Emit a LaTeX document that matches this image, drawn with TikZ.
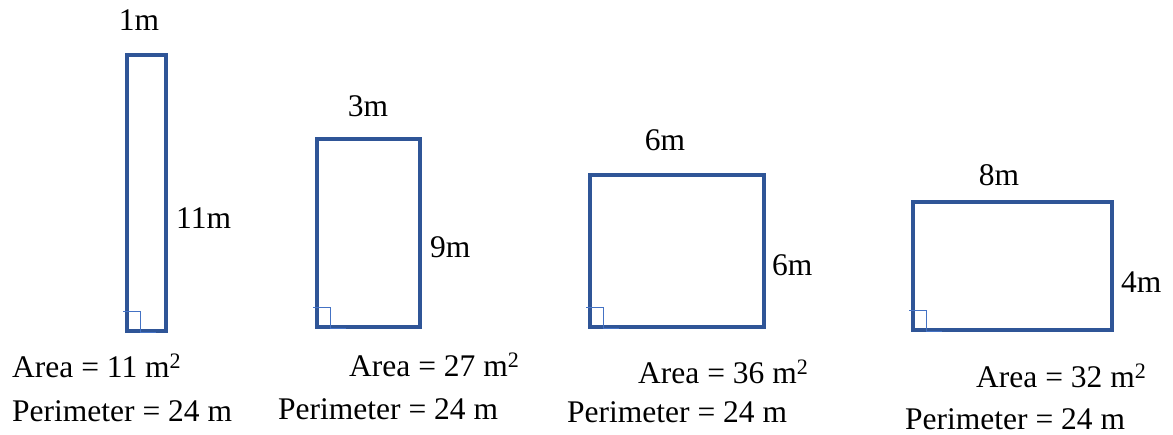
\documentclass[tikz,border=0pt]{standalone}
\usepackage{fontspec}
\setmainfont{Liberation Serif}
\usetikzlibrary{positioning}

\definecolor{edgeblue}{HTML}{2F5597}
\definecolor{markblue}{HTML}{4472C4}

\begin{document}
\begin{tikzpicture}[
    x=1pt, y=-1pt,
    field/.style={rectangle, draw=edgeblue, line width=3.2pt, inner sep=0pt},
    rightangle/.style={draw=markblue, line width=1.8pt},
    lbl/.style={font=\rmfamily\fontsize{31.5}{36}\selectfont, inner sep=0pt}
]
    \useasboundingbox (0,0) rectangle (1173,435);

    % the four fields
    \node[field, minimum width=39pt, minimum height=276pt] (r1) at (146.5,193) {};
    \node[field, minimum width=103pt, minimum height=188pt] (r2) at (368.5,233) {};
    \node[field, minimum width=174pt, minimum height=152pt] (r3) at (677,251) {};
    \node[field, minimum width=199pt, minimum height=128pt] (r4) at (1012.5,266) {};

    % right angle marks
    \foreach \r in {r1,r2,r3,r4}
        \draw[rightangle] (\r.south west) ++(-2,-21) -| ++(17,21) -- ++(16,0);

    % side lengths
    \node[lbl, anchor=base] (w1) at (139,31) {1m};
    \node[lbl, anchor=base west] (h1) at (176,229) {11m};
    \node[lbl, anchor=base] (w2) at (368,117) {3m};
    \node[lbl, anchor=base west] (h2) at (430,258) {9m};
    \node[lbl, anchor=base] (w3) at (665,151) {6m};
    \node[lbl, anchor=base west] (h3) at (772,276) {6m};
    \node[lbl, anchor=base] (w4) at (999,186) {8m};
    \node[lbl, anchor=base west] (h4) at (1121,293) {4m};

    % area and perimeter
    \node[lbl, anchor=base west] (area1) at (12,378) {Area = 11 m\textsuperscript{2}};
    \node[lbl, anchor=base west] (perim1) at (12,422) {Perimeter = 24 m};
    \node[lbl, anchor=base west] (area2) at (349,377) {Area = 27 m\textsuperscript{2}};
    \node[lbl, anchor=base west] (perim2) at (278,420) {Perimeter = 24 m};
    \node[lbl, anchor=base west] (area3) at (638,384) {Area = 36 m\textsuperscript{2}};
    \node[lbl, anchor=base west] (perim3) at (567,423) {Perimeter = 24 m};
    \node[lbl, anchor=base west] (area4) at (976,388) {Area = 32 m\textsuperscript{2}};
    \node[lbl, anchor=base west] (perim4) at (905,430) {Perimeter = 24 m};
\end{tikzpicture}
\end{document}
